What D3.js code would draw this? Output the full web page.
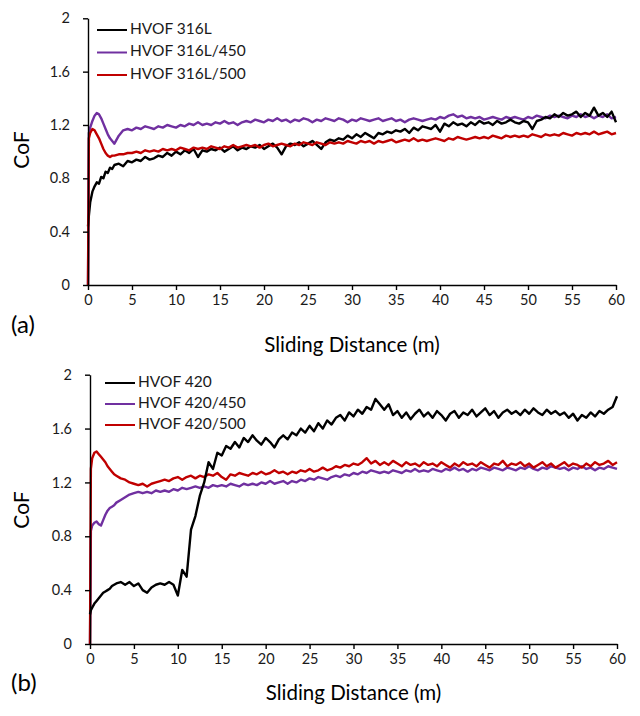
<!DOCTYPE html>
<html>
<head>
<meta charset="utf-8">
<script src="https://cdn.jsdelivr.net/npm/d3@7"></script>
<style>
  html, body { margin: 0; padding: 0; background: #fff; }
  svg { display: block; font-family: Lato, "Open Sans", sans-serif; }
</style>
</head>
<body>
<svg id="chart" width="640" height="716"></svg>
<script>
// ---------- DATA ----------
const distance = [0, 0.1, 0.25, 0.5, 0.75, 1, 1.25, 1.5, 1.75, 2, 2.25, 2.5, 2.75, 3,
  3.5, 4, 4.5, 5, 5.5, 6, 6.5, 7, 7.5, 8,
  8.5, 9, 9.5, 10, 10.5, 11, 11.5, 12, 12.5, 13,
  13.5, 14, 14.5, 15, 15.5, 16, 16.5, 17, 17.5, 18,
  18.5, 19, 19.5, 20, 20.5, 21, 21.5, 22, 22.5, 23,
  23.5, 24, 24.5, 25, 25.5, 26, 26.5, 27, 27.5, 28,
  28.5, 29, 29.5, 30, 30.5, 31, 31.5, 32, 32.5, 33,
  33.5, 34, 34.5, 35, 35.5, 36, 36.5, 37, 37.5, 38,
  38.5, 39, 39.5, 40, 40.5, 41, 41.5, 42, 42.5, 43,
  43.5, 44, 44.5, 45, 45.5, 46, 46.5, 47, 47.5, 48,
  48.5, 49, 49.5, 50, 50.5, 51, 51.5, 52, 52.5, 53,
  53.5, 54, 54.5, 55, 55.5, 56, 56.5, 57, 57.5, 58,
  58.5, 59, 59.5, 60];

const xTicks = [0, 5, 10, 15, 20, 25, 30, 35, 40, 45, 50, 55, 60];
const yTicks = [0, 0.4, 0.8, 1.2, 1.6, 2];

// Panel (a)
const namesA = ["HVOF 316L", "HVOF 316L/450", "HVOF 316L/500"];
const cof316L = [0.44, 0.52, 0.62, 0.70, 0.74, 0.77, 0.76, 0.81, 0.80, 0.85, 0.84, 0.88, 0.87, 0.90,
  0.91, 0.89, 0.93, 0.92, 0.94, 0.93, 0.96, 0.94, 0.95, 0.97,
  0.96, 0.99, 0.97, 1.00, 0.98, 1.01, 0.99, 1.02, 0.96, 1.01,
  1.00, 1.02, 1.01, 1.03, 1.00, 1.02, 1.04, 1.01, 1.03, 1.02,
  1.04, 1.03, 1.05, 1.02, 1.04, 1.06, 1.03, 0.98, 1.04, 1.06,
  1.05, 1.07, 1.04, 1.06, 1.08, 1.05, 1.02, 1.07, 1.09, 1.08,
  1.10, 1.09, 1.12, 1.10, 1.13, 1.11, 1.14, 1.12, 1.10, 1.14,
  1.13, 1.15, 1.14, 1.16, 1.15, 1.17, 1.14, 1.18, 1.16, 1.19,
  1.18, 1.17, 1.20, 1.15, 1.21, 1.19, 1.22, 1.20, 1.21, 1.19,
  1.22, 1.20, 1.23, 1.21, 1.22, 1.20, 1.23, 1.21, 1.22, 1.24,
  1.22, 1.21, 1.23, 1.22, 1.17, 1.23, 1.24, 1.26, 1.25, 1.28,
  1.26, 1.29, 1.27, 1.28, 1.30, 1.26, 1.29, 1.27, 1.33, 1.27,
  1.29, 1.26, 1.30, 1.22];
const cof316L450 = [0, 1.14, 1.18, 1.23, 1.27, 1.29, 1.28, 1.25, 1.21, 1.17, 1.13, 1.10, 1.08, 1.06,
  1.12, 1.16, 1.17, 1.16, 1.18, 1.17, 1.19, 1.18, 1.17, 1.19,
  1.18, 1.20, 1.19, 1.18, 1.20, 1.19, 1.21, 1.20, 1.22, 1.20,
  1.21, 1.20, 1.22, 1.21, 1.23, 1.21, 1.22, 1.20, 1.22, 1.23,
  1.22, 1.24, 1.23, 1.22, 1.24, 1.23, 1.25, 1.23, 1.24, 1.22,
  1.24, 1.23, 1.25, 1.24, 1.22, 1.24, 1.23, 1.25, 1.24, 1.23,
  1.25, 1.24, 1.22, 1.24, 1.23, 1.25, 1.24, 1.23, 1.24, 1.25,
  1.23, 1.24, 1.25, 1.23, 1.24, 1.22, 1.24, 1.25, 1.24, 1.23,
  1.24, 1.25, 1.24, 1.26, 1.25, 1.27, 1.28, 1.26, 1.27, 1.25,
  1.26, 1.25, 1.26, 1.24, 1.25, 1.26, 1.25, 1.24, 1.26, 1.25,
  1.26, 1.25, 1.24, 1.26, 1.25, 1.27, 1.26, 1.25, 1.27, 1.26,
  1.27, 1.26, 1.25, 1.27, 1.26, 1.28, 1.26, 1.27, 1.25, 1.27,
  1.26, 1.28, 1.25, 1.26];
const cof316L500 = [0, 1.10, 1.14, 1.17, 1.16, 1.13, 1.10, 1.06, 1.02, 0.99, 0.97, 0.96, 0.97, 0.97,
  0.98, 0.98, 0.99, 0.99, 1.00, 0.99, 1.01, 1.00, 1.01, 1.00,
  1.02, 1.01, 1.02, 1.01, 1.03, 1.02, 1.01, 1.03, 1.02, 1.03,
  1.02, 1.04, 1.03, 1.02, 1.04, 1.03, 1.05, 1.03, 1.04, 1.05,
  1.04, 1.05, 1.03, 1.05, 1.06, 1.04, 1.05, 1.06, 1.05, 1.04,
  1.06, 1.05, 1.07, 1.06, 1.05, 1.07, 1.06, 1.05, 1.07, 1.06,
  1.07, 1.06, 1.08, 1.07, 1.06, 1.08, 1.07, 1.08, 1.06, 1.08,
  1.07, 1.08, 1.09, 1.07, 1.08, 1.09, 1.08, 1.10, 1.08, 1.09,
  1.08, 1.09, 1.10, 1.09, 1.08, 1.10, 1.09, 1.11, 1.10, 1.09,
  1.10, 1.11, 1.10, 1.11, 1.10, 1.12, 1.11, 1.10, 1.12, 1.11,
  1.12, 1.11, 1.12, 1.11, 1.13, 1.12, 1.11, 1.13, 1.12, 1.13,
  1.12, 1.14, 1.13, 1.12, 1.14, 1.13, 1.14, 1.13, 1.15, 1.13,
  1.14, 1.15, 1.13, 1.14];

// Panel (b)
const namesB = ["HVOF 420", "HVOF 420/450", "HVOF 420/500"];
const cof420 = [0.22, 0.25, 0.27, 0.30, 0.32, 0.34, 0.36, 0.38, 0.39, 0.40, 0.41, 0.43, 0.44, 0.45,
  0.46, 0.44, 0.46, 0.43, 0.45, 0.40, 0.38, 0.42, 0.44, 0.45,
  0.44, 0.46, 0.44, 0.36, 0.55, 0.50, 0.85, 0.95, 1.10, 1.20,
  1.35, 1.30, 1.42, 1.40, 1.47, 1.45, 1.50, 1.46, 1.53, 1.50,
  1.55, 1.51, 1.48, 1.53, 1.50, 1.46, 1.52, 1.55, 1.52, 1.57,
  1.55, 1.60, 1.57, 1.62, 1.58, 1.64, 1.60, 1.66, 1.63, 1.68,
  1.70, 1.66, 1.72, 1.69, 1.74, 1.71, 1.76, 1.74, 1.82, 1.78,
  1.74, 1.78, 1.70, 1.73, 1.68, 1.72, 1.67, 1.71, 1.74, 1.69,
  1.72, 1.68, 1.73, 1.70, 1.66, 1.71, 1.73, 1.68, 1.72, 1.70,
  1.74, 1.69, 1.72, 1.75, 1.70, 1.73, 1.68, 1.72, 1.74, 1.71,
  1.73, 1.70, 1.74, 1.71, 1.75, 1.72, 1.70, 1.74, 1.71, 1.73,
  1.70, 1.72, 1.68, 1.71, 1.66, 1.70, 1.68, 1.72, 1.69, 1.73,
  1.71, 1.74, 1.76, 1.84];
const cof420450 = [0, 0.84, 0.88, 0.90, 0.91, 0.89, 0.88, 0.92, 0.96, 0.99, 1.01, 1.02, 1.03, 1.05,
  1.07, 1.09, 1.11, 1.12, 1.13, 1.12, 1.13, 1.12, 1.14, 1.13,
  1.14, 1.13, 1.15, 1.14, 1.16, 1.15, 1.16, 1.17, 1.16, 1.17,
  1.16, 1.18, 1.17, 1.18, 1.17, 1.19, 1.18, 1.17, 1.19, 1.18,
  1.19, 1.18, 1.20, 1.19, 1.21, 1.19, 1.20, 1.21, 1.19, 1.21,
  1.20, 1.22, 1.21, 1.23, 1.22, 1.24, 1.23, 1.22, 1.24, 1.25,
  1.24, 1.26, 1.25, 1.27, 1.26, 1.28, 1.27, 1.29, 1.28, 1.27,
  1.28, 1.27, 1.29, 1.28, 1.27, 1.29, 1.28, 1.30, 1.28, 1.29,
  1.28, 1.30, 1.29, 1.28, 1.30, 1.29, 1.31, 1.29, 1.30, 1.28,
  1.30, 1.29, 1.31, 1.30, 1.29, 1.31, 1.30, 1.29, 1.31, 1.30,
  1.29, 1.31, 1.30, 1.32, 1.30, 1.29, 1.31, 1.30, 1.32, 1.31,
  1.30, 1.31, 1.29, 1.31, 1.30, 1.32, 1.30, 1.31, 1.29, 1.31,
  1.30, 1.32, 1.31, 1.30];
const cof420500 = [0, 1.30, 1.38, 1.42, 1.43, 1.41, 1.39, 1.37, 1.35, 1.32, 1.30, 1.28, 1.26, 1.25,
  1.23, 1.22, 1.20, 1.19, 1.18, 1.19, 1.17, 1.19, 1.20, 1.21,
  1.22, 1.21, 1.23, 1.24, 1.22, 1.24, 1.25, 1.23, 1.25, 1.24,
  1.26, 1.25, 1.27, 1.24, 1.22, 1.26, 1.25, 1.27, 1.26, 1.25,
  1.27, 1.26, 1.28, 1.26, 1.27, 1.29, 1.27, 1.28, 1.26, 1.28,
  1.27, 1.29, 1.28, 1.30, 1.28, 1.29, 1.31, 1.29, 1.30, 1.32,
  1.31, 1.33, 1.32, 1.34, 1.33, 1.35, 1.38, 1.34, 1.36, 1.33,
  1.35, 1.33, 1.36, 1.34, 1.32, 1.35, 1.33, 1.34, 1.32, 1.35,
  1.33, 1.34, 1.32, 1.35, 1.33, 1.31, 1.34, 1.32, 1.35, 1.33,
  1.34, 1.32, 1.35, 1.33, 1.31, 1.34, 1.33, 1.36, 1.32, 1.34,
  1.33, 1.35, 1.32, 1.34, 1.31, 1.33, 1.35, 1.32, 1.34, 1.31,
  1.33, 1.35, 1.32, 1.34, 1.33, 1.31, 1.34, 1.32, 1.35, 1.33,
  1.34, 1.36, 1.33, 1.35];

const colors = ["#000000", "#7030a0", "#c00000"];

// ---------- DRAWING ----------
const svg = d3.select("#chart");

const panels = [
  { label: "(a)", names: namesA, series: [cof316L, cof316L450, cof316L500],
    drawOrder: [1, 0, 2],
    x0: 88, x1: 616, yTop: 18.3, yBot: 285,
    legX: 97, legY: [30, 52.5, 75], labelY: 327, titleY: 347, cofY: 150 },
  { label: "(b)", names: namesB, series: [cof420, cof420450, cof420500],
    drawOrder: [1, 2, 0],
    x0: 90, x1: 617, yTop: 374.7, yBot: 644,
    legX: 105, legY: [383, 404, 425], labelY: 685, titleY: 695, cofY: 510 }
];

panels.forEach(p => {
  const x = d3.scaleLinear().domain([0, 60]).range([p.x0, p.x1]);
  const y = d3.scaleLinear().domain([0, 2]).range([p.yBot, p.yTop]);
  const g = svg.append("g");

  const line = d3.line()
    .x((d, i) => x(distance[i]))
    .y(d => y(d));

  p.drawOrder.forEach(k => {
    g.append("path")
      .datum(p.series[k])
      .attr("fill", "none")
      .attr("stroke", colors[k])
      .attr("stroke-width", 2.4)
      .attr("stroke-linejoin", "round")
      .attr("d", line);
  });

  // axes
  const xAxis = d3.axisBottom(x).tickValues(xTicks).tickSize(5).tickSizeOuter(0).tickPadding(5)
    .tickFormat(d3.format("d"));
  const yAxis = d3.axisLeft(y).tickValues(yTicks).tickSize(5).tickSizeOuter(0).tickPadding(13)
    .tickFormat(d => String(+d.toFixed(1)));

  const gx = g.append("g").attr("transform", `translate(0,${p.yBot})`).call(xAxis);
  const gy = g.append("g").attr("transform", `translate(${p.x0},0)`).call(yAxis);
  [gx, gy].forEach(a => {
    a.selectAll(".domain").attr("stroke", "#000").attr("stroke-width", 1.4);
    a.selectAll(".tick line").attr("stroke", "#000").attr("stroke-width", 1.4);
    a.selectAll(".tick text").attr("fill", "#1a1a1a")
      .style("font-size", "14.5px").style("font-family", "Lato, sans-serif");
  });

  // axis titles
  g.append("text")
    .attr("x", (p.x0 + p.x1) / 2).attr("y", p.titleY)
    .attr("text-anchor", "middle").attr("dominant-baseline", "middle")
    .style("font-size", "20.5px").attr("fill", "#000")
    .text("Sliding Distance (m)");
  g.append("text")
    .attr("transform", `translate(24,${p.cofY}) rotate(-90)`)
    .attr("text-anchor", "middle").attr("dominant-baseline", "middle")
    .style("font-size", "21px").attr("fill", "#000")
    .text("CoF");
  g.append("text")
    .attr("x", 11).attr("y", p.labelY)
    .attr("dominant-baseline", "middle")
    .style("font-size", "24px").attr("fill", "#000")
    .text(p.label);

  // legend
  p.names.forEach((n, k) => {
    g.append("line")
      .attr("x1", p.legX).attr("x2", p.legX + 30)
      .attr("y1", p.legY[k]).attr("y2", p.legY[k])
      .attr("stroke", colors[k]).attr("stroke-width", 2);
    g.append("text")
      .attr("x", p.legX + 33).attr("y", p.legY[k])
      .attr("dominant-baseline", "middle")
      .style("font-size", "15.5px").attr("fill", "#1a1a1a")
      .text(n);
  });
});
</script>
</body>
</html>
